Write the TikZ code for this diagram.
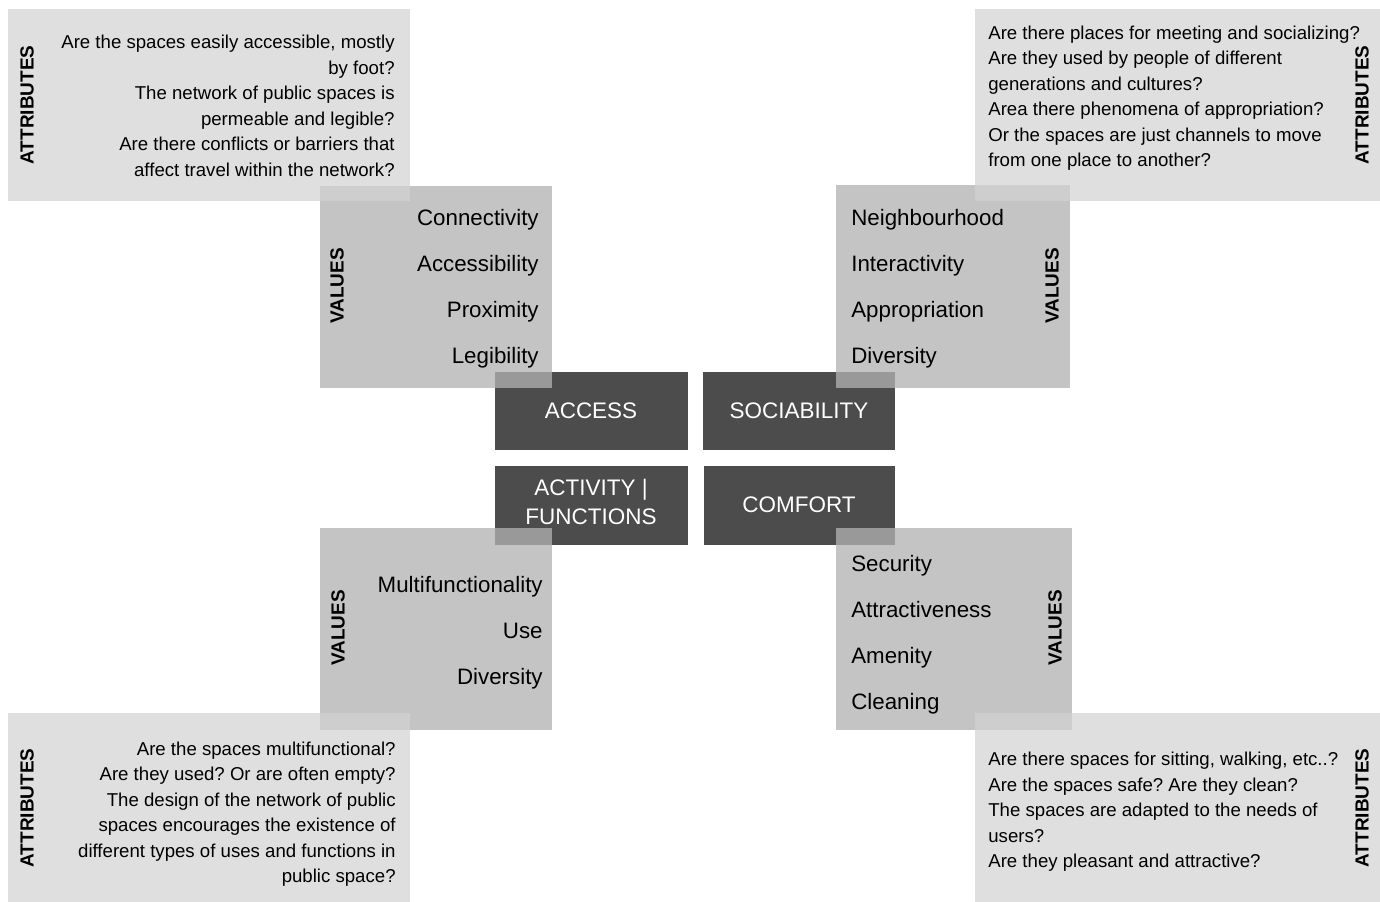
\documentclass[tikz,border=0pt]{standalone}
\usepackage{fontspec}
\setmainfont{Liberation Sans}
\usetikzlibrary{fit}
\definecolor{attrgray}{gray}{0.824}
\definecolor{valgray}{gray}{0.698}
\definecolor{coregray}{gray}{0.30}
\frenchspacing

\begin{document}
\begin{tikzpicture}[x=0.02cm, y=-0.02cm,
    attrbox/.style={fill=attrgray, fill opacity=0.7, inner sep=0pt},
    valbox/.style={fill=valgray, fill opacity=0.76, inner sep=0pt},
    corebox/.style={fill=coregray, inner sep=0pt},
    coretext/.style={inner sep=0pt, text=white, align=center,
        font=\fontsize{12.8}{16.4}\selectfont},
    attrtext/.style={inner sep=0pt, font=\fontsize{10.6}{14.5}\selectfont},
    valtext/.style={inner sep=0pt, font=\fontsize{12.7}{26.1}\selectfont},
    sidelabel/.style={inner sep=0pt, rotate=90, font=\fontsize{10.8}{13}\selectfont\bfseries}]
    \useasboundingbox (0,0) rectangle (1380,902);

    % central boxes
    \node[corebox, fit={(495,372) (688,450)}] (access) {};
    \node[corebox, fit={(703,372) (895,450)}] (sociab) {};
    \node[corebox, fit={(495,466) (688,545)}] (activ) {};
    \node[corebox, fit={(704,466) (895,545)}] (comfort) {};
    \node[coretext] (accesstxt) at (591,411) {ACCESS};
    \node[coretext] (sociabtxt) at (799,411) {SOCIABILITY};
    \node[coretext] (activtxt) at (591,502) {ACTIVITY |\\FUNCTIONS};
    \node[coretext] (comforttxt) at (799,505) {COMFORT};

    % values
    \node[valbox, fit={(320,186) (552,388)}] (accval) {};
    \node[valbox, fit={(836,185) (1070,388)}] (socval) {};
    \node[valbox, fit={(320,528) (552,730)}] (actval) {};
    \node[valbox, fit={(836,528) (1072,730)}] (comval) {};

    % attributes
    \node[attrbox, fit={(8,9) (410,201)}] (accattr) {};
    \node[attrbox, fit={(975,9) (1380,201)}] (socattr) {};
    \node[attrbox, fit={(8,713) (410,902)}] (actattr) {};
    \node[attrbox, fit={(975,713) (1380,902)}] (comattr) {};

    \node[sidelabel] (accattrlbl) at (27,105) {ATTRIBUTES};
    \node[sidelabel] (socattrlbl) at (1362,105) {ATTRIBUTES};
    \node[sidelabel] (actattrlbl) at (27,808) {ATTRIBUTES};
    \node[sidelabel] (comattrlbl) at (1362,808) {ATTRIBUTES};
    \node[sidelabel] (accvallbl) at (337,286) {VALUES};
    \node[sidelabel] (socvallbl) at (1052,286) {VALUES};
    \node[sidelabel] (actvallbl) at (338,628) {VALUES};
    \node[sidelabel] (comvallbl) at (1055,628) {VALUES};

    \node[valtext, align=right, anchor=east] (accvaltxt) at (539,289)
        {Connectivity\\Accessibility\\Proximity\\Legibility};
    \node[valtext, align=left, anchor=west] (socvaltxt) at (851,289)
        {Neighbourhood\\Interactivity\\Appropriation\\Diversity};
    \node[valtext, align=right, anchor=east] (actvaltxt) at (543,633)
        {Multifunctionality\\Use\\Diversity};
    \node[valtext, align=left, anchor=west] (comvaltxt) at (851,635)
        {Security\\Attractiveness\\Amenity\\Cleaning};

    \node[attrtext, align=right, anchor=east] (accattrtxt) at (395,106)
        {Are the spaces easily accessible, mostly\\by foot?\\The network of public spaces is\\permeable and legible?\\Are there conflicts or barriers that\\affect travel within the network?};
    \node[attrtext, align=left, anchor=west] (socattrtxt) at (988,98)
        {Are there places for meeting and socializing?\\Are they used by people of different\\generations and cultures?\\Area there phenomena of appropriation?\\Or the spaces are just channels to move\\from one place to another?};
    \node[attrtext, align=right, anchor=east] (actattrtxt) at (396,814)
        {Are the spaces multifunctional?\\Are they used? Or are often empty?\\The design of the network of public\\spaces encourages the existence of\\different types of uses and functions in\\public space?};
    \node[attrtext, align=left, anchor=west] (comattrtxt) at (988,812)
        {Are there spaces for sitting, walking, etc..?\\Are the spaces safe? Are they clean?\\The spaces are adapted to the needs of\\users?\\Are they pleasant and attractive?};
\end{tikzpicture}
\end{document}
